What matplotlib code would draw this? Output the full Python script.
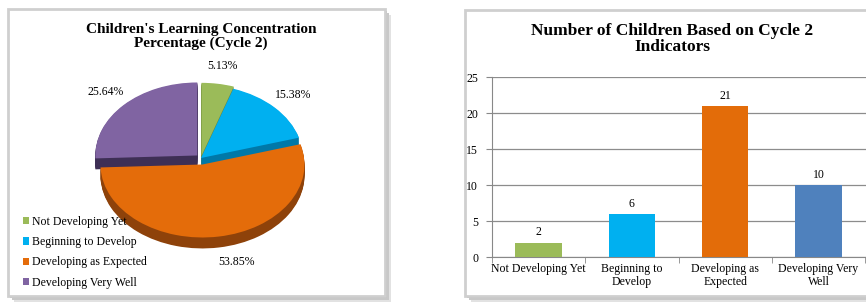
import matplotlib
matplotlib.use('Agg')
import matplotlib.pyplot as plt
from matplotlib.patches import Rectangle
import numpy as np

# data
categories = ['Not Developing Yet', 'Beginning to Develop',
              'Developing as Expected', 'Developing Very Well']
bar_labels = ['Not Developing Yet', 'Beginning to\nDevelop',
              'Developing as\nExpected', 'Developing Very\nWell']
counts = [2, 6, 21, 10]
yticks = [0, 5, 10, 15, 20, 25]

pie_colors = ['#9BBB59', '#00B0F0', '#E46C0A', '#8064A2']
side_colors = ['#6E8A3A', '#0078A8', '#8E420A', '#3E2F55']
bar_colors = ['#9BBB59', '#00B0F0', '#E36C09', '#4F81BD']

plt.rcParams['font.family'] = ['Liberation Serif', 'DejaVu Serif']

W, H = 866, 304
fig = plt.figure(figsize=(W / 100, H / 100), dpi=100)
fig.patch.set_facecolor('white')


def px(x0, y0, x1, y1):
    # pixel box (top-left origin) -> figure fraction
    return [x0 / W, 1 - y1 / H, (x1 - x0) / W, (y1 - y0) / H]


def panel(x0, y0, x1, y1):
    # soft shadow on right / bottom, then the white card
    for off, c in [(6, '#e2e2e2'), (4, '#c8c8c8'), (2, '#a8a8a8')]:
        b = px(x0 + off, y0 + off, x1 + off, y1 + off)
        fig.patches.append(Rectangle((b[0], b[1]), b[2], b[3], transform=fig.transFigure,
                                     facecolor=c, edgecolor='none', zorder=-6))
    b = px(x0, y0, x1, y1)
    fig.patches.append(Rectangle((b[0], b[1]), b[2], b[3], transform=fig.transFigure,
                                 facecolor='white', edgecolor='#cfcfcf', lw=2, zorder=-5))


panel(8, 9, 385, 296)
panel(465, 10, 880, 296)

# ---------------- pie ----------------
ax1 = fig.add_axes(px(10, 58, 383, 294))
ax1.axis('off')
explode = [0.03, 0.0, 0.09, 0.05]
depth = 0.15
for d in np.linspace(depth, 0.01, 12):
    ax1.pie(counts, colors=side_colors, startangle=90, counterclock=False,
            explode=explode, center=(0, -d), wedgeprops=dict(linewidth=0))
wedges, texts, autotexts = ax1.pie(
    counts, colors=pie_colors, startangle=90, counterclock=False,
    explode=explode, autopct='%.2f%%', pctdistance=1.25,
    wedgeprops=dict(linewidth=0), textprops=dict(fontsize=8.5))
# push the bottom label below the pie side
x, y = autotexts[2].get_position()
autotexts[2].set_position((x + 0.13, y - depth + 0.05))
ax1.set_aspect('auto')
cx, cy = 201, 158
sx, sy = 102, 73
ax1.set_xlim((10 - cx) / sx, (383 - cx) / sx)
ax1.set_ylim((cy - 294) / sy, (cy - 58) / sy)
ax1.legend(wedges, categories, loc='lower left', bbox_to_anchor=(0.02, 0.0),
           frameon=False, fontsize=8.5, handlelength=0.55, handleheight=0.55,
           handletextpad=0.2, labelspacing=0.7, borderaxespad=0.05)
fig.text(201 / W, 1 - 36 / H, "Children's Learning Concentration\nPercentage (Cycle 2)",
         ha='center', va='center', fontsize=11, fontweight='bold', linespacing=1.05)

# ---------------- bars ----------------
ax2 = fig.add_axes(px(492, 77, 866, 257))
x = np.arange(len(counts))
bars = ax2.bar(x, counts, width=0.5, color=bar_colors, zorder=3)
ax2.bar_label(bars, padding=3, fontsize=8.5)
ax2.set_xlim(-0.5, 3.5 + 0.01)
ax2.set_ylim(0, 25)
ax2.set_yticks(yticks)
ax2.set_xticks(x)
ax2.set_xticklabels(bar_labels, fontsize=8.5, linespacing=1.15)
ax2.set_xticks(np.arange(-0.5, 3.6, 1), minor=True)
ax2.tick_params(axis='x', which='major', length=0, pad=4)
ax2.tick_params(axis='x', which='minor', length=4, color='#888888')
ax2.tick_params(axis='y', length=4, color='#888888', labelsize=8.5, pad=6)
ax2.grid(axis='y', color='#8c8c8c', lw=0.9, zorder=0)
for s in ['top', 'right']:
    ax2.spines[s].set_visible(False)
for s in ['left', 'bottom']:
    ax2.spines[s].set_color('#888888')
fig.text(672 / W, 1 - 39 / H, 'Number of Children Based on Cycle 2\nIndicators',
         ha='center', va='center', fontsize=12.5, fontweight='bold', linespacing=1.0)

fig.savefig('out.png', dpi=100)
